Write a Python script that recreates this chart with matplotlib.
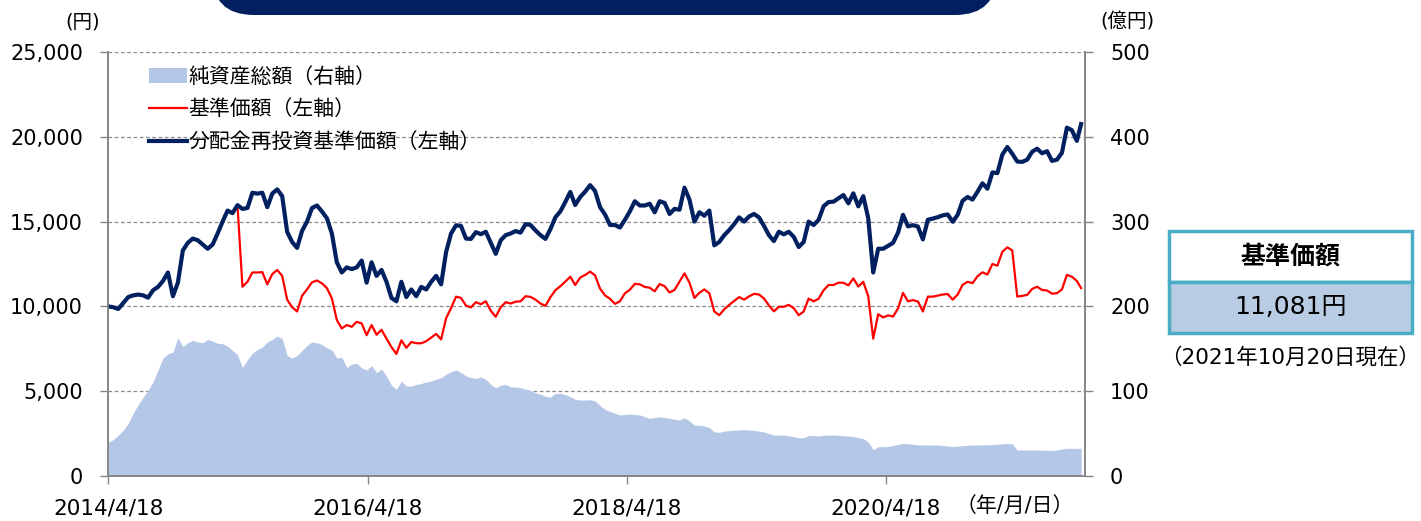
import matplotlib
matplotlib.use("Agg")
import matplotlib.pyplot as plt
from matplotlib.patches import Rectangle, FancyBboxPatch, Patch
from matplotlib.lines import Line2D
from matplotlib.ticker import StrMethodFormatter
import pandas as pd

plt.rcParams['font.family'] = ['DejaVu Sans', 'Noto Sans CJK JP']

# data: every 14 days from the start, plus the last day
dates = list(pd.date_range('2014-04-18', '2021-10-20', freq='14D')) + [pd.Timestamp('2021-10-20')]

# 分配金再投資基準価額 (円)
reinvest = [
    10000, 9950, 9850, 10200, 10550, 10650, 10700, 10650, 10520, 10950,
    11150, 11500, 12000, 10600, 11400, 13300, 13750, 14000, 13900, 13650,
    13400, 13650, 14300, 15000, 15650, 15500, 15970, 15750, 15800, 16700,
    16650, 16700, 15850, 16650, 16900, 16500, 14400, 13800, 13450, 14450,
    15000, 15800, 15950, 15600, 15200, 14300, 12600, 12000, 12300, 12200,
    12300, 12700, 11400, 12600, 11800, 12150, 11450, 10500, 10300, 11450,
    10550, 11000, 10600, 11150, 11000, 11450, 11800, 11300, 13200, 14300,
    14780, 14750, 14000, 13980, 14380, 14260, 14400, 13750, 13100, 13900,
    14200, 14300, 14440, 14350, 14850, 14800, 14480, 14200, 13980, 14550,
    15250, 15600, 16150, 16750, 15980, 16450, 16765, 17150, 16800, 15850,
    15420, 14800, 14800, 14650, 15100, 15600, 16200, 15950, 15950, 16050,
    15550, 16200, 16100, 15450, 15750, 15700, 17000, 16300, 15000, 15550,
    15350, 15650, 13600, 13800, 14200, 14500, 14850, 15250, 15000, 15300,
    15450, 15250, 14750, 14200, 13850, 14400, 14250, 14400, 14100, 13500,
    13800, 15000, 14800, 15100, 15900, 16150, 16175, 16371, 16568, 16077,
    16666, 15900, 16500, 15200, 12000, 13400, 13400, 13570, 13750, 14350,
    15400, 14720, 14790, 14710, 13950, 15110, 15180, 15260, 15370, 15420,
    14990, 15400, 16230, 16450, 16300, 16760, 17260, 16940, 17900, 17860,
    18950, 19400, 19000, 18540, 18520, 18650, 19120, 19300, 19030, 19150,
    18580, 18650, 19060, 20540, 20390, 19760,
    20750,
]

# 基準価額 (円)
nav = [
    10000, 9950, 9850, 10200, 10550, 10650, 10700, 10650, 10520, 10950,
    11150, 11500, 12000, 10600, 11400, 13300, 13750, 14000, 13900, 13650,
    13400, 13650, 14300, 15000, 15650, 15500, 15970, 11160, 11450, 12000,
    12000, 12020, 11300, 11900, 12150, 11800, 10400, 9950, 9700, 10630,
    11000, 11420, 11530, 11360, 11080, 10480, 9200, 8700, 8900, 8800,
    9090, 9000, 8300, 8900, 8330, 8620, 8100, 7600, 7200, 8000,
    7560, 7900, 7830, 7824, 7950, 8160, 8380, 8050, 9300, 9900,
    10574, 10500, 10050, 9940, 10250, 10130, 10300, 9740, 9390, 9950,
    10250, 10170, 10278, 10300, 10600, 10560, 10400, 10170, 10030, 10540,
    10950, 11190, 11460, 11750, 11262, 11700, 11852, 12050, 11830, 11050,
    10650, 10450, 10150, 10300, 10770, 10980, 11330, 11300, 11150, 11100,
    10890, 11320, 11190, 10820, 10970, 11460, 11950, 11400, 10500, 10800,
    11000, 10780, 9700, 9480, 9830, 10090, 10320, 10550, 10400, 10590,
    10740, 10700, 10470, 10060, 9710, 9980, 9980, 10090, 9900, 9480,
    9700, 10460, 10300, 10450, 10950, 11262, 11262, 11400, 11390, 11240,
    11650, 11170, 11450, 10600, 8100, 9540, 9350, 9470, 9400, 9880,
    10800, 10300, 10370, 10290, 9700, 10574, 10574, 10640, 10700, 10730,
    10400, 10700, 11270, 11450, 11370, 11780, 12010, 11880, 12500, 12400,
    13220, 13480, 13300, 10580, 10620, 10680, 11030, 11160, 10967, 10940,
    10750, 10780, 11000, 11860, 11750, 11500,
    11081,
]

# 純資産総額 (億円)
assets = [
    40, 43, 48, 54, 62, 74, 84, 93, 101, 111,
    125, 139, 144, 146, 163, 153, 157, 160, 158, 157,
    161, 159, 156.5, 156, 153, 148, 143, 128, 137, 145,
    149, 152, 158, 161, 165, 162, 142, 139, 142, 148,
    154, 158, 157, 155, 151, 148.6, 139, 140, 128, 132,
    133, 127.5, 125, 130, 122, 126, 118, 107, 102, 112,
    106, 106, 108, 109, 111, 112, 114, 116, 120, 123,
    125, 122, 118, 116, 115, 117, 114, 108, 104, 107,
    108, 105, 105, 104, 102.5, 101, 98, 96.5, 94, 93,
    97.5, 97.5, 96, 93.5, 90.5, 89.6, 89.6, 90, 88.5, 83,
    78.5, 76, 74, 72, 72.5, 73, 72.5, 72, 70, 68,
    69, 69.7, 69, 68, 67, 66, 68.5, 65, 60, 60,
    59, 57, 52, 51.5, 53, 53.5, 54, 54.3, 54.6, 54.2,
    53.9, 53, 52, 50, 48.3, 48.3, 48.3, 47.3, 46.4, 45,
    45.3, 47.6, 47.8, 47.2, 48, 48.3, 48.3, 48, 47.5, 47,
    46.4, 45.3, 44, 40, 31, 34.6, 34.6, 35, 36, 37.2,
    38.5, 38, 37.4, 36.8, 36.6, 36.6, 36.6, 36.5, 36, 35.4,
    34.7, 35.2, 35.8, 36.3, 36.6, 36.6, 36.6, 36.7, 37, 37.4,
    37.9, 38.3, 37.8, 30.7, 30.7, 30.7, 30.7, 30.7, 30.5, 30.3,
    30, 30.7, 31.9, 32.6, 32.6, 32.6,
    32.6,
]

tick_dates = ['2014-04-18', '2016-04-18', '2018-04-18', '2020-04-18']
tick_labels = ['2014/4/18', '2016/4/18', '2018/4/18', '2020/4/18']
left_ticks = [0, 5000, 10000, 15000, 20000, 25000]
right_ticks = [0, 100, 200, 300, 400, 500]
legend_labels = ['純資産総額（右軸）', '基準価額（左軸）', '分配金再投資基準価額（左軸）']

AREA = '#b4c7e7'
NAVY = '#002060'
RED = '#ff0000'
GRAY = '#868686'

fig = plt.figure(figsize=(14.21, 5.21), dpi=100)
ax = fig.add_axes([108 / 1421, 1 - 476 / 521, 977 / 1421, 424 / 521])
ax2 = ax.twinx()
ax.set_zorder(2)
ax2.set_zorder(1)
ax.patch.set_visible(False)

# net assets (right axis)
ax2.fill_between(dates, assets, 0, color=AREA, linewidth=0)
ax2.set_ylim(0, 500)
ax2.set_yticks(right_ticks)
ax2.yaxis.grid(True, linestyle=(0, (3, 2)), color='#8c8c8c', linewidth=0.9)
ax2.set_axisbelow(True)

# prices (left axis)
ax.plot(dates, nav, color=RED, linewidth=1.6)
ax.plot(dates, reinvest, color=NAVY, linewidth=3.0)
ax.set_ylim(0, 25000)
ax.set_yticks(left_ticks)
ax.yaxis.set_major_formatter(StrMethodFormatter('{x:,.0f}'))
ax.set_xlim(pd.Timestamp('2014-04-17'), pd.Timestamp('2021-10-31'))
ax.set_xticks(pd.to_datetime(tick_dates))
ax.set_xticklabels(tick_labels)

for a in (ax, ax2):
    a.spines['top'].set_visible(False)
    for s in ('left', 'right', 'bottom'):
        a.spines[s].set_color(GRAY)
        a.spines[s].set_linewidth(1.2)
ax.tick_params(axis='y', length=6, width=1, color=GRAY, labelsize=15, pad=12)
ax2.tick_params(axis='y', length=6, width=1, color=GRAY, labelsize=15, pad=12)
ax.tick_params(axis='x', length=6, width=1, color=GRAY, labelsize=15.5, pad=10)

handles = [Patch(facecolor=AREA, edgecolor='none'),
           Line2D([], [], color=RED, linewidth=1.6),
           Line2D([], [], color=NAVY, linewidth=3.0)]
ax.legend(handles, legend_labels, loc='upper left', bbox_to_anchor=(0.042, 0.967),
          frameon=False, handlelength=1.8, handletextpad=0.1,
          labelspacing=0.5, borderpad=0, borderaxespad=0,
          prop={'family': ['Noto Sans CJK JP'], 'size': 15})

# decorations in pixel space
deco = fig.add_axes([0, 0, 1, 1])
deco.set_xlim(0, 1421)
deco.set_ylim(521, 0)
deco.axis('off')

deco.add_patch(FancyBboxPatch((212, -70), 785, 85,
                              boxstyle='round,pad=0,rounding_size=42',
                              facecolor=NAVY, edgecolor='none'))

deco.text(83, 22, '(円)', fontsize=14, ha='center', va='center')
deco.text(1127, 22, '(億円)', fontsize=14, ha='center', va='center')
deco.text(1015, 506, '（年/月/日）', fontsize=15, ha='center', va='center')

deco.add_patch(Rectangle((1169, 231), 243, 51, facecolor='white',
                         edgecolor='#4bacc6', linewidth=2.5))
deco.add_patch(Rectangle((1169, 282), 243, 51, facecolor='#b8cce4',
                         edgecolor='#4bacc6', linewidth=2.5))
deco.text(1290.5, 257, '基準価額', fontsize=18, fontweight='bold',
          ha='center', va='center', family=['Noto Sans CJK JP'])
deco.text(1290.5, 307, '11,081円', fontsize=18, ha='center', va='center')
deco.text(1290, 357, '（2021年10月20日現在）', fontsize=15.5, ha='center', va='center')

fig.savefig('out.png', dpi=100)
